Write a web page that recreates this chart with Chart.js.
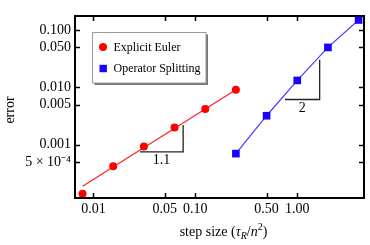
<!DOCTYPE html>
<html>
<head>
<meta charset="utf-8">
<script src="https://cdn.jsdelivr.net/npm/chart.js@4.4.1/dist/chart.umd.min.js"></script>
<style>
  body { margin: 0; background: #fff; }
</style>
</head>
<body>
<canvas id="chart" width="370" height="245"></canvas>
<script>
const serif = "'Liberation Serif', 'Times New Roman', serif";

// step sizes are powers of two
const stepSizes = [1/128, 1/64, 1/32, 1/16, 1/8, 1/4];
const eulerError = [1.40e-4, 4.2e-4, 9.3e-4, 2.0e-3, 4.2e-3, 9.1e-3];
const eulerFitX = [1/128, 1/4];
const eulerFitY = [1.89e-4, 9.1e-3];
const splitStepSizes = [0.25, 0.5, 1, 2, 4];
const splitError = [7.0e-4, 3.2e-3, 1.32e-2, 4.96e-2, 0.149];

// slope triangles
const eulerSlopeX = [0.0286, 0.0759, 0.0759];
const eulerSlopeY = [7.48e-4, 7.48e-4, 2.21e-3];
const splitSlopeX = [0.759, 1.66, 1.66];
const splitSlopeY = [6.14e-3, 6.14e-3, 0.0301];
const slopeLabels = ['1.1', '2'];

const xTicks = [0.01, 0.05, 0.1, 0.5, 1];
const xTickLabels = ['0.01', '0.05', '0.10', '0.50', '1.00'];
const yTicks = [5e-4, 0.001, 0.005, 0.01, 0.05, 0.1];
const yTickLabels = ['5 \u00d7 10\u207b\u2074', '0.001', '0.005', '0.010', '0.050', '0.100'];

function pts(xs, ys) {
  return xs.map((x, i) => ({ x: x, y: ys[i] }));
}

// frame, inward ticks, legend box, slope labels and axis titles
const decorations = {
  id: 'decorations',
  afterDatasetsDraw(chart) {
    const ctx = chart.ctx;
    const a = chart.chartArea;
    const xs = chart.scales.x, ys = chart.scales.y;
    ctx.save();

    // slope labels under the triangles
    ctx.fillStyle = '#000';
    ctx.font = '14px ' + serif;
    ctx.textAlign = 'center';
    ctx.textBaseline = 'middle';
    [[eulerSlopeX, eulerSlopeY], [splitSlopeX, splitSlopeY]].forEach((t, i) => {
      const px = (xs.getPixelForValue(t[0][0]) + xs.getPixelForValue(t[0][1])) / 2;
      const py = ys.getPixelForValue(t[1][0]) + 8.5;
      ctx.fillText(slopeLabels[i], px, py);
    });

    // frame
    ctx.strokeStyle = '#000';
    ctx.lineWidth = 2;
    ctx.strokeRect(a.left, a.top, a.right - a.left, a.bottom - a.top);
    ctx.lineWidth = 1.5;
    ctx.beginPath();
    xTicks.forEach(v => {
      const px = Math.round(xs.getPixelForValue(v)) + 0.5;
      ctx.moveTo(px, a.bottom); ctx.lineTo(px, a.bottom - 5);
      ctx.moveTo(px, a.top); ctx.lineTo(px, a.top + 5);
    });
    yTicks.forEach(v => {
      const py = Math.round(ys.getPixelForValue(v)) + 0.5;
      ctx.moveTo(a.left, py); ctx.lineTo(a.left + 5, py);
      ctx.moveTo(a.right, py); ctx.lineTo(a.right - 5, py);
    });
    ctx.stroke();

    // legend
    const lx = 92.5, ly = 32.5, lw = 113.5, lh = 50.5;
    ctx.fillStyle = '#777';
    ctx.fillRect(lx + 2, ly + 2, lw, lh);
    ctx.fillStyle = '#fff';
    ctx.fillRect(lx, ly, lw, lh);
    ctx.strokeStyle = '#999';
    ctx.lineWidth = 1;
    ctx.strokeRect(lx, ly, lw, lh);
    ctx.font = '12px ' + serif;
    ctx.textAlign = 'left';
    [0, 2].forEach((di, row) => {
      const ds = chart.data.datasets[di];
      const cy = ly + 14.5 + row * 21.5;
      ctx.fillStyle = ds.pointBackgroundColor;
      ctx.beginPath();
      if (ds.pointStyle === 'circle') {
        ctx.arc(lx + 10.5, cy, ds.pointRadius, 0, Math.PI * 2);
      } else {
        ctx.rect(lx + 7, cy - 3.7, 7.4, 7.4);
      }
      ctx.fill();
      ctx.fillStyle = '#000';
      ctx.fillText(ds.label, lx + 21, cy + 0.5);
    });

    // y title
    ctx.font = '14px ' + serif;
    ctx.save();
    ctx.translate(10, (a.top + a.bottom) / 2 + 3);
    ctx.rotate(-Math.PI / 2);
    ctx.textAlign = 'center';
    ctx.fillText('error', 0, 0);
    ctx.restore();

    // x title with sub/superscript
    const parts = [
      ['step size (', '14px', 0],
      ['\u03c4', 'italic 14px', 0],
      ['R', 'italic 10px', 4],
      ['/', '14px', 0],
      ['n', 'italic 14px', 0],
      ['2', '10px', -5],
      [')', '14px', 0]
    ];
    let total = 0;
    parts.forEach(p => { ctx.font = p[1] + ' ' + serif; total += ctx.measureText(p[0]).width; });
    let x = (a.left + a.right) / 2 + 4 - total / 2;
    const baseY = 232;
    ctx.textAlign = 'left';
    parts.forEach(p => {
      ctx.font = p[1] + ' ' + serif;
      ctx.fillText(p[0], x, baseY + p[2]);
      x += ctx.measureText(p[0]).width;
    });

    ctx.restore();
  }
};

new Chart(document.getElementById('chart'), {
  type: 'scatter',
  data: {
    datasets: [
      {
        label: 'Explicit Euler',
        data: pts(stepSizes, eulerError),
        showLine: false,
        pointStyle: 'circle',
        pointRadius: 4,
        pointBackgroundColor: '#ff0000',
        pointBorderWidth: 0,
        clip: false,
        order: 1
      },
      {
        label: 'Euler fit',
        data: pts(eulerFitX, eulerFitY),
        showLine: true,
        borderColor: '#ff2020',
        borderWidth: 1.2,
        pointRadius: 0,
        order: 2
      },
      {
        label: 'Operator Splitting',
        data: pts(splitStepSizes, splitError),
        showLine: true,
        borderColor: '#4a3cff',
        borderWidth: 1.2,
        pointStyle: 'rect',
        pointRadius: 5.4,
        pointBackgroundColor: '#1a00ff',
        pointBorderWidth: 0,
        clip: false,
        order: 1
      },
      {
        label: 'slope 1.1',
        data: pts(eulerSlopeX, eulerSlopeY),
        showLine: true,
        borderColor: '#222',
        borderWidth: 1.3,
        pointRadius: 0
      },
      {
        label: 'slope 2',
        data: pts(splitSlopeX, splitSlopeY),
        showLine: true,
        borderColor: '#222',
        borderWidth: 1.3,
        pointRadius: 0
      }
    ]
  },
  options: {
    responsive: false,
    animation: false,
    devicePixelRatio: 1,
    layout: { padding: { top: 16, right: 6, left: 0, bottom: 0 } },
    plugins: { legend: { display: false }, tooltip: { enabled: false } },
    scales: {
      x: {
        type: 'logarithmic',
        min: 0.00659,
        max: 4.52,
        afterBuildTicks: s => { s.ticks = xTicks.map(v => ({ value: v })); },
        afterFit: s => { s.height = 47; },
        grid: { display: false, drawTicks: false },
        border: { display: false },
        ticks: {
          autoSkip: false,
          maxRotation: 0,
          padding: 3,
          color: '#000',
          font: { family: serif, size: 14 },
          callback: v => xTickLabels[xTicks.indexOf(v)]
        }
      },
      y: {
        type: 'logarithmic',
        min: 1.18e-4,
        max: 0.175,
        afterBuildTicks: s => { s.ticks = yTicks.map(v => ({ value: v })); },
        afterFit: s => { s.width = 75; },
        grid: { display: false, drawTicks: false },
        border: { display: false },
        ticks: {
          autoSkip: false,
          padding: 4,
          color: '#000',
          font: { family: serif, size: 14 },
          callback: v => yTickLabels[yTicks.indexOf(v)]
        }
      }
    }
  },
  plugins: [decorations]
});
</script>
</body>
</html>
